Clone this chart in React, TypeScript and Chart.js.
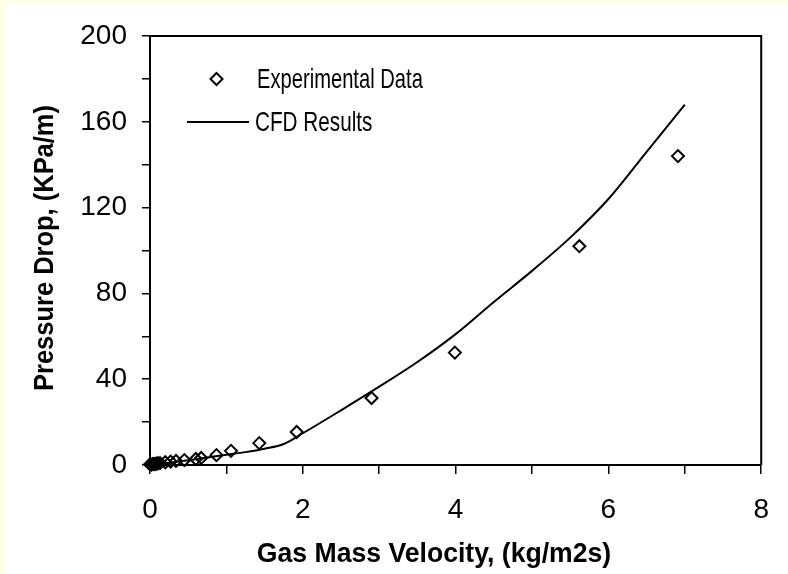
import { useEffect, useRef } from 'react';
import { Chart, registerables } from 'chart.js';

Chart.register(...registerables);

const FONT_FAMILY = "'Liberation Sans', Arial, Helvetica, sans-serif";

// Experimental measurements: gas mass velocity (kg/m2s) vs pressure drop (KPa/m)
const expVelocity = [0.0, 0.02, 0.04, 0.06, 0.08, 0.1, 0.13, 0.2, 0.27, 0.34, 0.45, 0.6, 0.67, 0.87, 1.06, 1.43, 1.92, 2.9, 3.99, 5.62, 6.91];
const expPressureDrop = [0.3, 0.2, 0.5, 0.4, 0.6, 0.8, 0.9, 1.3, 1.6, 1.9, 2.3, 2.8, 3.3, 4.6, 6.6, 10.2, 15.4, 31.2, 52.4, 102, 144];

// CFD simulation curve
const cfdVelocity = [0, 0.25, 0.5, 0.75, 1.0, 1.25, 1.5, 1.75, 2.0, 2.5, 3.0, 3.5, 4.0, 4.5, 5.0, 5.5, 6.0, 6.5, 7.0];
const cfdPressureDrop = [0, 1.0, 2.2, 3.5, 4.8, 6.0, 7.6, 9.8, 14.8, 25.5, 36.5, 48, 61, 76, 90.5, 106, 124, 146, 168];

const seriesNames = ['Experimental Data', 'CFD Results'];
const xAxisTitle = 'Gas Mass Velocity, (kg/m2s)';
const yAxisTitle = 'Pressure Drop, (KPa/m)';

const xRange = [0, 8];
const xTickStep = 1;
const xLabelStep = 2;
const yRange = [0, 200];
const yTickStep = 20;
const yLabelStep = 40;

function drawText(
  ctx: CanvasRenderingContext2D,
  text: string,
  x: number,
  y: number,
  font: string,
  scaleX: number,
  align: CanvasTextAlign,
  rotated = false,
) {
  ctx.save();
  ctx.translate(x, y);
  if (rotated) ctx.rotate(-Math.PI / 2);
  ctx.scale(scaleX, 1);
  ctx.font = font;
  ctx.fillStyle = '#000';
  ctx.textAlign = align;
  ctx.textBaseline = 'alphabetic';
  ctx.fillText(text, 0, 0);
  ctx.restore();
}

function drawDiamond(ctx: CanvasRenderingContext2D, x: number, y: number, r: number) {
  ctx.beginPath();
  ctx.moveTo(x, y - r);
  ctx.lineTo(x + r, y);
  ctx.lineTo(x, y + r);
  ctx.lineTo(x - r, y);
  ctx.closePath();
  ctx.stroke();
}

// Top and right edges of the plot frame
const framePlugin = {
  id: 'plotFrame',
  afterDraw(chart: any) {
    const { ctx, chartArea } = chart;
    ctx.save();
    ctx.strokeStyle = '#000';
    ctx.lineWidth = 2;
    ctx.beginPath();
    ctx.moveTo(chartArea.left, chartArea.top);
    ctx.lineTo(chartArea.right, chartArea.top);
    ctx.lineTo(chartArea.right, chartArea.bottom);
    ctx.stroke();
    ctx.restore();
  },
};

// Axis titles and the in-plot legend
const labelsPlugin = {
  id: 'labels',
  afterDraw(chart: any) {
    const { ctx } = chart;
    ctx.save();
    ctx.strokeStyle = '#000';
    ctx.lineWidth = 2;
    ctx.lineJoin = 'miter';

    // legend
    drawDiamond(ctx, 216.5, 79, 6);
    drawText(ctx, seriesNames[0], 257, 88, `28px ${FONT_FAMILY}`, 0.72, 'left');
    ctx.beginPath();
    ctx.moveTo(187, 122);
    ctx.lineTo(249, 122);
    ctx.stroke();
    drawText(ctx, seriesNames[1], 255, 131, `28px ${FONT_FAMILY}`, 0.74, 'left');

    // axis titles
    drawText(ctx, xAxisTitle, 434, 562, `bold 28px ${FONT_FAMILY}`, 0.95, 'center');
    drawText(ctx, yAxisTitle, 53, 248, `bold 28px ${FONT_FAMILY}`, 0.91, 'center', true);
    ctx.restore();
  },
};

export default function App() {
  const canvasRef = useRef<HTMLCanvasElement | null>(null);

  useEffect(() => {
    const canvas = canvasRef.current;
    if (!canvas) return;

    const tickFont = { family: FONT_FAMILY, size: 28 };

    const chart = new Chart(canvas, {
      type: 'scatter',
      data: {
        datasets: [
          {
            label: seriesNames[0],
            data: expVelocity.map((x, i) => ({ x, y: expPressureDrop[i] })),
            pointStyle: 'rectRot',
            pointRadius: 6,
            pointBorderWidth: 2,
            pointBorderColor: '#000',
            pointBackgroundColor: 'rgba(0,0,0,0)',
            showLine: false,
            clip: false,
            order: 1,
          },
          {
            label: seriesNames[1],
            data: cfdVelocity.map((x, i) => ({ x, y: cfdPressureDrop[i] })),
            showLine: true,
            borderColor: '#000',
            borderWidth: 2,
            pointRadius: 0,
            cubicInterpolationMode: 'monotone',
            fill: false,
            order: 2,
          },
        ],
      },
      options: {
        responsive: false,
        animation: false,
        devicePixelRatio: 1,
        layout: { padding: { left: 0, top: 36, right: 26, bottom: 0 } },
        plugins: {
          legend: { display: false },
          tooltip: { enabled: false },
        },
        scales: {
          x: {
            type: 'linear',
            min: xRange[0],
            max: xRange[1],
            afterFit: (scale: any) => {
              scale.height = 109;
            },
            ticks: {
              stepSize: xTickStep,
              autoSkip: false,
              maxRotation: 0,
              padding: 19,
              color: '#000',
              font: tickFont,
              callback: (v: any) => (Number(v) % xLabelStep === 0 ? String(v) : ''),
            },
            grid: {
              drawOnChartArea: false,
              drawTicks: true,
              tickLength: 9,
              color: '#000',
              lineWidth: 1.5,
            },
            border: { display: true, color: '#000', width: 2 },
          },
          y: {
            type: 'linear',
            min: yRange[0],
            max: yRange[1],
            afterFit: (scale: any) => {
              scale.width = 150;
            },
            ticks: {
              stepSize: yTickStep,
              autoSkip: false,
              padding: 15,
              color: '#000',
              font: tickFont,
              callback: (v: any) => (Number(v) % yLabelStep === 0 ? String(v) : ''),
            },
            grid: {
              drawOnChartArea: false,
              drawTicks: true,
              tickLength: 8,
              color: '#000',
              lineWidth: 1.5,
            },
            border: { display: true, color: '#000', width: 2 },
          },
        },
      },
      plugins: [framePlugin, labelsPlugin],
    });

    return () => chart.destroy();
  }, []);

  return (
    <div
      style={{
        position: 'fixed',
        left: 0,
        top: 0,
        width: 788,
        height: 574,
        background: '#FFFFE6',
        overflow: 'hidden',
      }}
    >
      <div
        style={{
          position: 'absolute',
          left: 6,
          top: 4,
          width: 782,
          height: 570,
          background: '#FFFFFF',
        }}
      />
      <canvas
        ref={canvasRef}
        width={788}
        height={574}
        style={{ position: 'absolute', left: 0, top: 0, width: 788, height: 574 }}
      />
    </div>
  );
}
